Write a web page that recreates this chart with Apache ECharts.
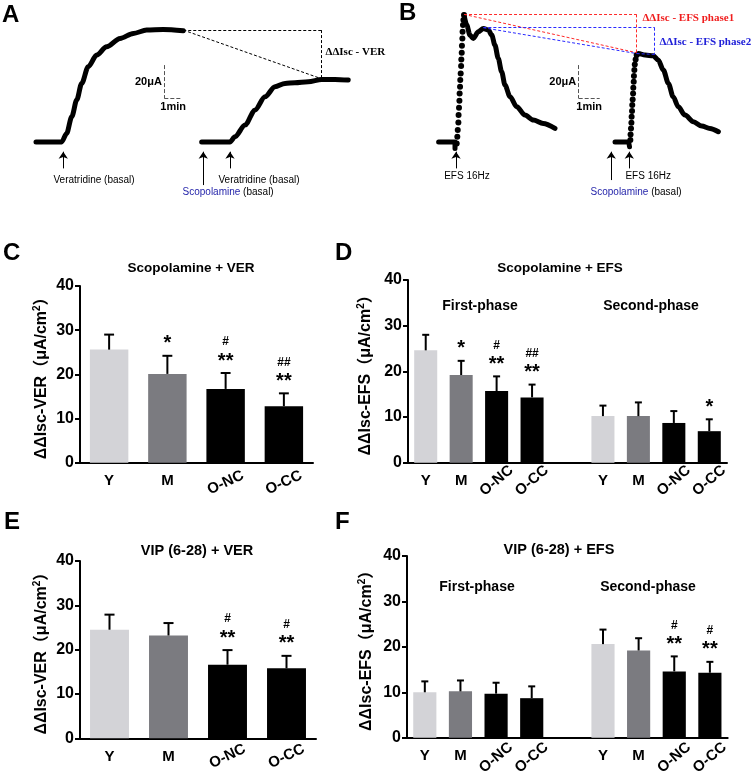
<!DOCTYPE html>
<html>
<head>
<meta charset="utf-8">
<script src="https://cdn.jsdelivr.net/npm/echarts/dist/echarts.min.js"></script>
<style>
html, body { margin: 0; padding: 0; background: #fff; }
#main { width: 754px; height: 776px; }
</style>
</head>
<body>
<div id="main"></div>
<script>
// ---------- trace data (time in min, current in uA) ----------
var traceA1 = [[0,0.5],[1.45,0.5],[1.73,5.6],[2.02,15.6],[2.30,25.6],[2.58,35.6],[2.95,45.6],[3.43,52.6],[3.99,57.6],[4.75,62.6],[5.50,65.6],[6.25,67.6],[7.19,68.0],[8.32,67.2]];
var traceA2 = [[9.36,0.5],[10.96,0.5],[11.24,3.6],[11.81,10.6],[12.37,19.6],[12.94,27.6],[13.5,33.6],[14.07,35.6],[14.63,36.0],[15.38,36.6],[16.14,38.0],[16.89,38.0],[17.64,37.6]];

var baseB1 = [[0.03,0.5],[0.81,0.5],[0.81,-3.4]];
var riseB1 = [[0.89,-0.4],[0.92,3.6],[0.94,7.6],[0.97,12.2],[0.98,16.6],[1.0,21.0],[1.02,25.2],[1.03,29.6],[1.05,33.6],[1.06,37.6],[1.08,41.6],[1.10,46.0],[1.11,50.0],[1.13,54.0],[1.14,58.2],[1.16,62.6],[1.17,66.6],[1.19,70.6],[1.21,73.6],[1.24,76.6]];
var decayB1 = [[1.24,76.6],[1.37,70.6],[1.52,64.6],[1.68,62.6],[1.92,66.6],[2.16,68.6],[2.40,67.6],[2.56,64.6],[2.71,58.6],[2.87,50.6],[3.03,42.6],[3.19,34.6],[3.43,27.6],[3.75,21.6],[4.14,16.6],[4.54,13.6],[5.01,11.6],[5.57,8.6]];
var baseB2 = [[8.43,0.5],[9.08,0.5],[9.12,-2.4]];
var riseB2 = [[9.16,1.6],[9.17,5.0],[9.19,8.6],[9.21,12.0],[9.22,15.6],[9.24,19.0],[9.25,22.6],[9.27,26.0],[9.29,29.6],[9.30,33.0],[9.32,36.6],[9.33,40.0],[9.35,43.6],[9.37,47.0],[9.41,50.0],[9.46,52.6]];
var decayB2 = [[9.46,52.6],[9.54,53.6],[9.86,52.6],[10.25,52.2],[10.49,49.6],[10.73,43.6],[10.97,35.6],[11.2,27.6],[11.44,21.6],[11.76,16.6],[12.16,12.6],[12.56,10.0],[12.95,8.6],[13.35,6.6]];

// ---------- bar data ----------
var catsC = ['Y', 'M', 'O-NC', 'O-CC'];
var meanC = [25.6, 20.1, 16.7, 12.8];
var errC = [3.4, 4.1, 3.6, 2.9];
var markC = ['', '*', '#\n**', '##\n**'];

var catsD = ['Y', 'M', 'O-NC', 'O-CC', '', 'Y', 'M', 'O-NC', 'O-CC'];
var meanD = [24.6, 19.2, 15.7, 14.3, null, 10.2, 10.2, 8.7, 6.9];
var errD = [3.4, 3.1, 3.2, 2.8, null, 2.3, 3.0, 2.6, 2.6];
var markD = ['', '*', '#\n**', '##\n**', '', '', '', '', '*'];

var catsE = ['Y', 'M', 'O-NC', 'O-CC'];
var meanE = [24.5, 23.2, 16.6, 15.8];
var errE = [3.4, 2.8, 3.3, 2.8];
var markE = ['', '', '#\n**', '#\n**'];

var catsF = ['Y', 'M', 'O-NC', 'O-CC', '', 'Y', 'M', 'O-NC', 'O-CC'];
var meanF = [10.0, 10.2, 9.7, 8.7, null, 20.6, 19.2, 14.6, 14.3];
var errF = [2.4, 2.4, 2.4, 2.6, null, 3.2, 2.7, 3.3, 2.4];
var markF = ['', '', '', '', '', '', '', '#\n**', '#\n**'];

var yTicks = [0, 10, 20, 30, 40];

var FONT = 'Arial, "Liberation Sans", "Noto Sans CJK SC", sans-serif';
var SERIF = '"Times New Roman", "Liberation Serif", serif';
var groupColors = ['#d3d3d7', '#7b7b80', '#000000', '#000000'];

var chart = echarts.init(document.getElementById('main'));

// ---------- trace panels ----------
var grids = [
    {left: 36, top: 9.4, width: 318.6, height: 200, outerBoundsMode: 'none'},
    {left: 417, top: 9.4, width: 315, height: 200, outerBoundsMode: 'none'}
];
var xAxes = [
    {gridIndex: 0, type: 'value', min: 0, max: 18, show: false},
    {gridIndex: 1, type: 'value', min: -1, max: 14, show: false}
];
var yAxes = [
    {gridIndex: 0, type: 'value', min: -40, max: 80, show: false},
    {gridIndex: 1, type: 'value', min: -40, max: 80, show: false}
];
var series = [];

function traceLine(data, ax) {
    return {
        type: 'line', xAxisIndex: ax, yAxisIndex: ax, data: data,
        symbol: 'none', showSymbol: false, smooth: 0.3, smoothMonotone: 'x',
        clip: false, silent: true,
        lineStyle: {color: '#000', width: 5, cap: 'round', join: 'round'}
    };
}
function traceDots(data, ax) {
    return {
        type: 'scatter', xAxisIndex: ax, yAxisIndex: ax, data: data,
        symbolSize: 6, clip: false, silent: true,
        itemStyle: {color: '#000', opacity: 1}
    };
}
series.push(traceLine(traceA1, 0), traceLine(traceA2, 0));
series.push(traceLine(baseB1, 1), traceDots(riseB1, 1), traceLine(decayB1, 1));
series.push(traceLine(baseB2, 1), traceDots(riseB2, 1), traceLine(decayB2, 1));

// annotations for the traces
var serifBold = {fontFamily: SERIF, fontWeight: 'bold', fontSize: 11};
var notesA = [
    {x: 0.96, y: -22.4, text: 'Veratridine (basal)'},
    {x: 10.28, y: -22.4, text: 'Veratridine (basal)'},
    {x: 8.25, y: -30, text: '{b|Scopolamine} (basal)'},
    {x: 16.33, y: 54.6, text: 'ΔΔIsc - VER', style: serifBold},
    {x: 7.25, y: 36.6, text: '20μA', pos: 'left', dist: 2, style: {fontWeight: 'bold', fontSize: 11}},
    {x: 7.75, y: 26.6, text: '1min', pos: 'bottom', dist: 3, style: {fontWeight: 'bold', fontSize: 11}}
];
var notesB = [
    {x: 0.27, y: -20, text: 'EFS 16Hz'},
    {x: 8.9, y: -20, text: 'EFS 16Hz'},
    {x: 7.24, y: -30, text: '{b|Scopolamine} (basal)'},
    {x: 9.71, y: 74.6, text: 'ΔΔIsc - EFS phase1', style: Object.assign({color: '#f01e1e'}, serifBold)},
    {x: 10.52, y: 60.6, text: 'ΔΔIsc - EFS phase2', style: Object.assign({color: '#2020d8'}, serifBold)},
    {x: 6.7, y: 36.6, text: '20μA', pos: 'left', dist: 2, style: {fontWeight: 'bold', fontSize: 11}},
    {x: 7.2, y: 26.6, text: '1min', pos: 'bottom', dist: 3, style: {fontWeight: 'bold', fontSize: 11}}
];
var arrowsA = [[1.54, -15.4, -5.4], [10.96, -15.4, -5.4], [9.45, -25.4, -5.4]];
var arrowsB = [[0.86, -15.4, -5.4], [9.11, -15.4, -5.4], [8.25, -22.4, -5.4]];

var dash = {type: [3, 2], width: 1};
var linesA = [
    [[8.32, 67.6], [16.1, 67.6], '#000', dash],
    [[16.1, 67.6], [16.1, 38.5], '#000', dash],
    [[8.32, 67.6], [16.1, 38.5], '#000', dash],
    [[7.25, 46.6], [7.25, 26.6], '#555', {width: 1}],
    [[7.25, 26.6], [8.25, 26.6], '#555', {width: 1}]
];
var linesB = [
    [[1.24, 77], [9.46, 77], '#ff2a2a', dash],
    [[9.46, 77], [9.46, 54], '#ff2a2a', dash],
    [[1.24, 77], [9.46, 54], '#ff2a2a', dash],
    [[2.16, 69], [10.32, 69], '#2a2aff', dash],
    [[10.32, 69], [10.32, 53], '#2a2aff', dash],
    [[2.16, 69], [9.46, 53.5], '#2a2aff', dash],
    [[9.46, 53.5], [10.32, 53], '#2a2aff', dash],
    [[6.7, 46.6], [6.7, 26.6], '#555', {width: 1}],
    [[6.7, 26.6], [7.7, 26.6], '#555', {width: 1}]
];

function notesSeries(notes, arrows, ax) {
    return {
        type: 'scatter', xAxisIndex: ax, yAxisIndex: ax, symbolSize: 1, silent: true, clip: false,
        itemStyle: {color: 'transparent'},
        data: notes.map(function (n) {
            return {
                value: [n.x, n.y],
                label: Object.assign({
                    show: true, formatter: n.text, position: n.pos || 'right', distance: n.dist || 0,
                    fontFamily: FONT, fontSize: 10, color: '#000', opacity: 1, textBorderWidth: 0,
                    rich: {b: {color: '#1f1fa8', fontSize: 10, fontFamily: FONT}}
                }, n.style || {})
            };
        }),
        markLine: {
            silent: true, animation: false, symbol: ['none', 'arrow'], symbolSize: 7,
            label: {show: false},
            lineStyle: {color: '#000', width: 1, type: 'solid', opacity: 1},
            data: arrows.map(function (a) {
                return [{coord: [a[0], a[1]]}, {coord: [a[0], a[2]]}];
            })
        }
    };
}
function linesSeries(lines, ax) {
    return {
        type: 'scatter', xAxisIndex: ax, yAxisIndex: ax, data: [], silent: true,
        markLine: {
            silent: true, animation: false, symbol: ['none', 'none'],
            label: {show: false},
            data: lines.map(function (l) {
                return [{coord: l[0], lineStyle: Object.assign({color: l[2], opacity: 1}, l[3])}, {coord: l[1]}];
            })
        }
    };
}
series.push(notesSeries(notesA, arrowsA, 0), linesSeries(linesA, 0));
series.push(notesSeries(notesB, arrowsB, 1), linesSeries(linesB, 1));

// ---------- bar panels ----------
var panels = [
    {grid: {left: 80, top: 286, width: 233, height: 176.7}, cats: catsC, mean: meanC, err: errC, marks: markC,
        name: 'ΔΔIsc-VER', nameGap: 28, rot: 25, rotMargin: 20, barW: '66%'},
    {grid: {left: 408, top: 280, width: 319, height: 182.7}, cats: catsD, mean: meanD, err: errD, marks: markD,
        name: 'ΔΔIsc-EFS', nameGap: 32, rot: 40, rotMargin: 18, barW: '65%'},
    {grid: {left: 80, top: 561, width: 236, height: 177.3}, cats: catsE, mean: meanE, err: errE, marks: markE,
        name: 'ΔΔIsc-VER', nameGap: 28, rot: 25, rotMargin: 18, barW: '66%'},
    {grid: {left: 407, top: 556, width: 320.7, height: 181.7}, cats: catsF, mean: meanF, err: errF, marks: markF,
        name: 'ΔΔIsc-EFS', nameGap: 30, rot: 40, rotMargin: 20, barW: '65%'}
];

var labelBase = {interval: 0, color: '#000', fontSize: 15, fontWeight: 'bold', fontFamily: FONT};

function errRender(p) {
    return function (params, api) {
        var i = api.value(0), m = api.value(1), e = api.value(2);
        var p0 = api.coord([i, m]);
        var p1 = api.coord([i, m + e]);
        var w = Math.max(3.5, api.size([1, 0])[0] * 0.085);
        var kids = [
            {type: 'line', shape: {x1: p0[0], y1: p0[1], x2: p1[0], y2: p1[1]}, style: {stroke: '#000', lineWidth: 2}},
            {type: 'line', shape: {x1: p1[0] - w, y1: p1[1], x2: p1[0] + w, y2: p1[1]}, style: {stroke: '#000', lineWidth: 2}}
        ];
        var note = p.marks[i];
        if (note) {
            var txt = note.split('\n').map(function (l) {
                return (l.indexOf('*') >= 0 ? '{s|' : '{h|') + l + '}';
            }).join('\n');
            kids.push({
                type: 'text', x: p1[0], y: p1[1] - 3,
                style: {
                    text: txt, align: 'center', verticalAlign: 'bottom',
                    textAlign: 'center', textVerticalAlign: 'bottom', fill: '#000',
                    rich: {
                        h: {fontSize: 12, fontWeight: 'bold', fontFamily: FONT, lineHeight: 20, fill: '#000'},
                        s: {fontSize: 20, fontWeight: 'bold', fontFamily: FONT, lineHeight: 18, fill: '#000'}
                    }
                }
            });
        }
        return {type: 'group', children: kids};
    };
}

panels.forEach(function (p, k) {
    var gi = k + 2;
    var xi = 2 + 2 * k;
    grids.push(Object.assign({outerBoundsMode: 'none', containLabel: false}, p.grid));
    xAxes.push({
        gridIndex: gi, type: 'category', data: p.cats, position: 'bottom',
        axisLine: {lineStyle: {color: '#000', width: 2}},
        axisTick: {show: false},
        axisLabel: Object.assign({}, labelBase, {
            margin: 11,
            formatter: function (v) { return v.indexOf('O-') === 0 ? '' : v; }
        })
    });
    xAxes.push({
        gridIndex: gi, type: 'category', data: p.cats, position: 'bottom',
        axisLine: {show: false}, axisTick: {show: false},
        axisLabel: Object.assign({}, labelBase, {
            rotate: p.rot, align: 'center', verticalAlign: 'middle', margin: p.rotMargin,
            formatter: function (v) { return v.indexOf('O-') === 0 ? v : ''; }
        })
    });
    yAxes.push({
        gridIndex: gi, type: 'value', min: yTicks[0], max: yTicks[yTicks.length - 1], interval: 10,
        axisLine: {show: true, lineStyle: {color: '#000', width: 2}},
        axisTick: {show: true, length: 5, lineStyle: {color: '#000', width: 2}},
        axisLabel: {margin: 6, color: '#000', fontSize: 16, fontWeight: 'bold', fontFamily: FONT},
        splitLine: {show: false},
        name: '{a|' + p.name + '（μA/cm}{s|2}{a|）}',
        nameLocation: 'middle', nameRotate: 90, nameGap: p.nameGap,
        nameTextStyle: {
            rich: {
                a: {fontSize: 16, fontWeight: 'bold', fontFamily: FONT, color: '#000', lineHeight: 20},
                s: {fontSize: 10, fontWeight: 'bold', fontFamily: FONT, color: '#000', lineHeight: 11, verticalAlign: 'top'}
            }
        }
    });
    series.push({
        type: 'bar', xAxisIndex: xi, yAxisIndex: gi, barWidth: p.barW, silent: true,
        data: p.mean.map(function (v, i) {
            return v == null ? '-' : {value: v, itemStyle: {color: groupColors[i % 5]}};
        })
    });
    var ed = [];
    p.mean.forEach(function (v, i) { if (v != null) ed.push([i, v, p.err[i]]); });
    series.push({
        type: 'custom', xAxisIndex: xi, yAxisIndex: gi, z: 3, clip: false, silent: true,
        encode: {x: 0, y: [1, 2]},
        data: ed,
        renderItem: errRender(p)
    });
});

// ---------- panel letters and titles ----------
function txt(s, x, y, size, align, color) {
    return {
        type: 'text', x: x, y: y, silent: true,
        style: {
            text: s, fill: color || '#000', font: 'bold ' + size + 'px ' + FONT,
            align: align, verticalAlign: 'middle', textAlign: align, textVerticalAlign: 'middle'
        }
    };
}
var graphics = [
    txt('A', 2, 15, 24, 'left'), txt('B', 399, 13, 24, 'left'),
    txt('C', 3, 253, 24, 'left'), txt('D', 335, 253, 24, 'left'),
    txt('E', 4, 522, 24, 'left'), txt('F', 335, 522, 24, 'left'),
    txt('Scopolamine + VER', 191, 268, 13.5, 'center'),
    txt('Scopolamine + EFS', 560, 268, 13.5, 'center'),
    txt('VIP (6-28) + VER', 197, 551, 14.5, 'center'),
    txt('VIP (6-28) + EFS', 559, 550, 14.5, 'center'),
    txt('First-phase', 480, 306, 14, 'center'),
    txt('Second-phase', 651, 306, 14, 'center'),
    txt('First-phase', 477, 587, 14, 'center'),
    txt('Second-phase', 648, 587, 14, 'center')
];

chart.setOption({
    animation: false,
    backgroundColor: '#fff',
    textStyle: {fontFamily: FONT},
    grid: grids,
    xAxis: xAxes,
    yAxis: yAxes,
    series: series,
    graphic: graphics
});
</script>
</body>
</html>
